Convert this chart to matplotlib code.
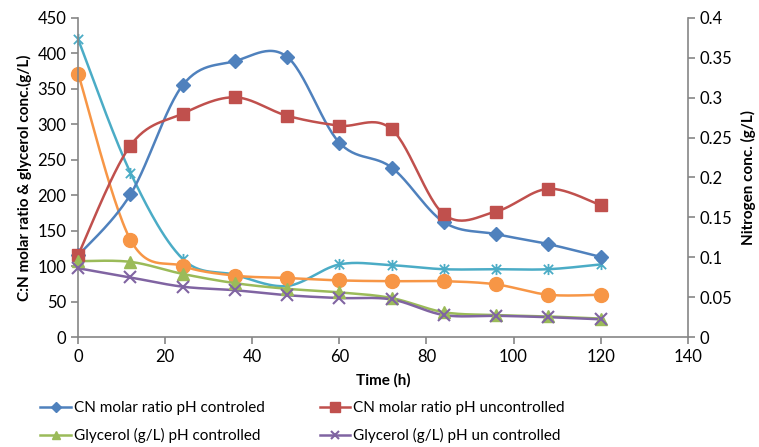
import numpy as np
import matplotlib
matplotlib.use('Agg')
import matplotlib.pyplot as plt
from matplotlib.path import Path

plt.rcParams['font.family'] = ['Lato', 'DejaVu Sans']

# Data
time_h = [0, 12, 24, 36, 48, 60, 72, 84, 96, 108, 120]
cn_ph_ctrl = [115, 201, 355, 389, 395, 274, 239, 162, 145, 131, 113]
cn_ph_unctrl = [116, 270, 315, 338, 312, 298, 293, 173, 177, 209, 186]
gly_ph_ctrl = [107, 106, 89, 76, 68, 63, 55, 35, 31, 29, 26]
gly_ph_unctrl = [97, 84, 71, 66, 59, 55, 53, 31, 30, 28, 25]
# nitrogen (right axis, g/L)
nit_ph_ctrl = [0.373, 0.206, 0.098, 0.078, 0.064, 0.091, 0.090, 0.085, 0.085, 0.085, 0.091]
nit_ph_unctrl = [0.330, 0.122, 0.089, 0.077, 0.074, 0.071, 0.070, 0.070, 0.066, 0.053, 0.053]


def smooth(x, y, n=30):
    # Excel-style smoothed line: Bezier segments with Catmull-Rom control points
    x = np.asarray(x, float)
    y = np.asarray(y, float)
    px = np.concatenate([[x[0]], x, [x[-1]]])
    py = np.concatenate([[y[0]], y, [y[-1]]])
    t = np.linspace(0, 1, n)[:, None]
    xs, ys = [], []
    for i in range(1, len(px) - 2):
        p0 = np.array([px[i], py[i]])
        p3 = np.array([px[i + 1], py[i + 1]])
        c1 = p0 + (np.array([px[i + 1], py[i + 1]]) - np.array([px[i - 1], py[i - 1]])) / 6
        c2 = p3 - (np.array([px[i + 2], py[i + 2]]) - np.array([px[i], py[i]])) / 6
        b = ((1 - t) ** 3) * p0 + 3 * ((1 - t) ** 2) * t * c1 + 3 * (1 - t) * t ** 2 * c2 + t ** 3 * p3
        xs.append(b[:, 0])
        ys.append(b[:, 1])
    return np.concatenate(xs), np.concatenate(ys)


star = Path([(-1, -1), (1, 1), (-1, 1), (1, -1), (0, -1.2), (0, 1.2)],
            [Path.MOVETO, Path.LINETO, Path.MOVETO, Path.LINETO, Path.MOVETO, Path.LINETO])

fig = plt.figure(figsize=(7.59, 4.47), dpi=100)
ax = fig.add_axes([0.103, 0.246, 0.803, 0.714])
ax2 = ax.twinx()

grey = '#868686'
lw = 1.8
handles = {}


def draw(a, y, color, marker, ms, label=None, mew=1.0):
    sx, sy = smooth(time_h, y)
    a.plot(sx, sy, color=color, lw=lw, zorder=2, clip_on=False)
    a.plot(time_h, y, linestyle='none', marker=marker, ms=ms, color=color,
           mfc=color, mec=color, mew=mew, zorder=3, clip_on=False)
    if label:
        h, = a.plot([], [], color=color, lw=lw, marker=marker, ms=ms * 0.8,
                    mfc=color, mec=color, mew=mew, label=label)
        handles[label] = h


draw(ax2, nit_ph_ctrl, '#4BACC6', star, 8, mew=1.3)
draw(ax2, nit_ph_unctrl, '#F79646', 'o', 10)
draw(ax, cn_ph_ctrl, '#4F81BD', 'D', 7, 'CN molar ratio pH controled')
draw(ax, cn_ph_unctrl, '#C0504D', 's', 9, 'CN molar ratio pH uncontrolled')
draw(ax, gly_ph_ctrl, '#9BBB59', '^', 8, 'Glycerol (g/L) pH controlled')
draw(ax, gly_ph_unctrl, '#8064A2', 'x', 8, 'Glycerol (g/L) pH un controlled', mew=1.5)

ax.set_zorder(ax2.get_zorder() + 1)
ax.patch.set_visible(False)

ax.set_xlim(0, 140)
ax.set_ylim(0, 450)
ax2.set_ylim(0, 0.4)
ax.set_xticks(np.arange(0, 141, 20))
ax.set_yticks(np.arange(0, 451, 50))
ax2.set_yticks([0, 0.05, 0.1, 0.15, 0.2, 0.25, 0.3, 0.35, 0.4])
ax2.set_yticklabels(['0', '0.05', '0.1', '0.15', '0.2', '0.25', '0.3', '0.35', '0.4'])

for a in (ax, ax2):
    a.spines['top'].set_visible(False)
    for s in ('left', 'right', 'bottom'):
        a.spines[s].set_color(grey)
        a.spines[s].set_linewidth(1.2)
    a.tick_params(colors=grey, labelcolor='black', labelsize=12, length=5, width=1.2, direction='out')
ax.spines['right'].set_visible(False)
ax2.spines['left'].set_visible(False)
ax2.spines['bottom'].set_visible(False)

ax.set_xlabel('Time (h)', fontsize=11, fontweight='bold', labelpad=6)
ax.set_ylabel('C:N molar ratio & glycerol conc.(g/L)', fontsize=11, fontweight='bold', labelpad=4)
ax2.set_ylabel('Nitrogen conc. (g/L)', fontsize=11, fontweight='bold', labelpad=6)

order = ['CN molar ratio pH controled', 'Glycerol (g/L) pH controlled',
         'CN molar ratio pH uncontrolled', 'Glycerol (g/L) pH un controlled']
fig.legend([handles[k] for k in order], order, loc='lower left',
           bbox_to_anchor=(0.035, -0.022), ncol=2, frameon=False,
           fontsize=11, columnspacing=3.6, handlelength=2.0, handletextpad=0.2,
           labelspacing=0.85)

fig.savefig('out.png', dpi=100)
